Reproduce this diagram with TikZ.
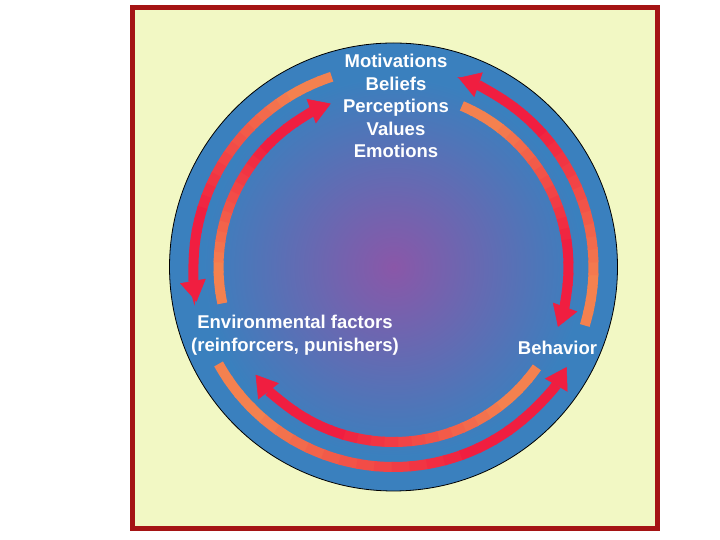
\documentclass[tikz,border=0pt]{standalone}
\usepackage{fontspec}
\newfontfamily\labfont{Liberation Sans}
\usetikzlibrary{arrows.meta}
\definecolor{cframe}{HTML}{A51414}
\definecolor{cpaper}{HTML}{F2F8C4}
\definecolor{cblue}{HTML}{3A80BE}
\definecolor{cpurple}{HTML}{8A57A8}
\definecolor{csalmon}{HTML}{F4814F}
\definecolor{cred}{HTML}{F01E40}

\begin{document}
\begin{tikzpicture}[x=1pt, y=1pt,
  band/.style={line width=10pt},
  head/.style={-{Triangle[width=26pt,length=21pt,line width=0.5pt]}},
  lbl/.style={text=white, align=center, inner sep=0pt,
              font=\labfont\bfseries\fontsize{18.5}{22.5}\selectfont}
]
\fill[white] (0,0) rectangle (720,540);
\useasboundingbox (0,0) rectangle (720,540);
\draw[cframe, line width=5pt, fill=cpaper] (132.5,11.5) rectangle (657.5,532.5);

\coordinate (ctr) at (393.5,273);
\fill[cblue] (ctr) circle[radius=224];
\shade[inner color=cpurple, outer color=cblue] (ctr) circle[radius=190];
\draw[black, line width=0.8pt] (ctr) circle[radius=224];

% arcs: start angle / end angle / radius
\foreach \a/\b/\r in {108/190/200, 192/111/175, -17/71/200,
                      67/-20/175, 209/330/200, 325/218/175}{
  \pgfmathsetmacro{\stp}{(\b-\a)/24}
  \foreach \k in {0,...,19}{
    \pgfmathsetmacro{\sa}{\a+\k*\stp}
    \pgfmathsetmacro{\ea}{\a+(\k+1.15)*\stp}
    \pgfmathsetmacro{\pct}{min(100,max(0,100*(\k-3)/13))}
    \draw[band, draw=cred!\pct!csalmon] ([shift={(\sa:\r)}]ctr)
      arc[start angle=\sa, end angle=\ea, radius=\r];
  }
  \pgfmathsetmacro{\sa}{\a+20*\stp}
  \draw[band, head, draw=cred] ([shift={(\sa:\r)}]ctr)
    arc[start angle=\sa, end angle=\b, radius=\r];
}

\node[lbl] (motiv) at (396,434) {Motivations\\Beliefs\\Perceptions\\Values\\Emotions};
\node[lbl] (envir) at (295,205) {Environmental factors\\(reinforcers, punishers)};
\node[lbl] (behav) at (557.5,192) {Behavior};
\end{tikzpicture}
\end{document}
